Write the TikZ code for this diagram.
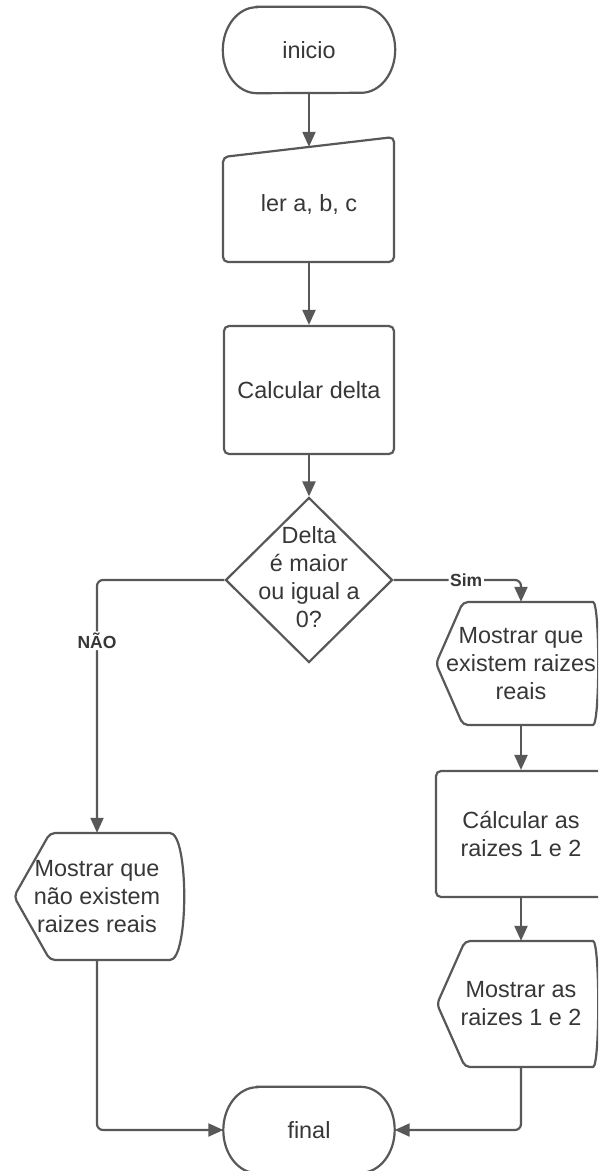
\documentclass[tikz,border=0pt]{standalone}
\usepackage{fontspec}
\setmainfont{Liberation Sans}
\usetikzlibrary{arrows.meta,shapes.geometric,calc}
\definecolor{linec}{RGB}{88,88,88}
\definecolor{textc}{RGB}{55,55,55}
\tikzset{
  shapeline/.style={draw=linec, line width=2.2pt, rounded corners=5pt},
  txt/.style={inner sep=0pt, align=center, text=textc, font=\fontsize{23.4pt}{28pt}\selectfont},
  ghost/.style={txt, draw=none, minimum width=170pt},
  box/.style={txt, shapeline, minimum width=170pt},
  decision/.style={diamond, draw=linec, line width=2.2pt, minimum width=167pt, minimum height=165pt, inner sep=0pt},
  conn/.style={draw=linec, line width=2.2pt, rounded corners=6pt, -{Triangle[length=15pt,width=13pt]}},
  lbl/.style={fill=white, text=textc, font=\bfseries\fontsize{17.5pt}{20pt}\selectfont, inner sep=1.5pt},
}
\begin{document}
\begin{tikzpicture}[x=1pt,y=-1pt]
\useasboundingbox (0,0) rectangle (598,1171);
\fill[white] (0,0) rectangle (598,1171);
\clip (0,0) rectangle (598,1171);

% start terminal
\node[ghost, minimum width=172pt, minimum height=86pt] (inicio) at (309,50) {inicio};
\draw[shapeline, rounded corners=0pt] ($(inicio.north west)+(34,0)$) -- ($(inicio.north east)+(-34,0)$)
  arc[start angle=90, end angle=-90, x radius=34pt, y radius=43pt]
  -- ($(inicio.south west)+(34,0)$)
  arc[start angle=270, end angle=90, x radius=34pt, y radius=43pt] -- cycle;

% manual input
\node[ghost, minimum height=115pt] (ler) at (309,204.5) {ler a, b, c};
\draw[shapeline] (223,157) -- (394,137) -- (394,262) -- (223,262) -- cycle;

% process
\node[box, minimum height=128pt] (calc) at (309,390) {Calcular delta};

% decision
\node[decision] (dec) at (309,580) {};
\node[txt] (dectext) at (309,577) {Delta\\é maior\\ou igual a\\0?};

% right branch
\node[ghost, minimum height=123pt] (d1) at (521,663.5) {Mostrar que\\existem raizes\\reais};
\draw[shapeline] (436,663.5) -- (463,602) -- (588,602) .. controls (600,602) and (600,725) .. (588,725) -- (463,725) -- cycle;

\node[box, minimum height=126pt] (raizes) at (521,834) {Cálcular as\\raizes 1 e 2};

\node[ghost, minimum height=126pt] (d3) at (521,1004) {Mostrar as\\raizes 1 e 2};
\draw[shapeline] (437,1004) -- (465,941) -- (588,941) .. controls (600,941) and (600,1067) .. (588,1067) -- (465,1067) -- cycle;

% left branch
\node[ghost, minimum height=127pt] (d2) at (97,896.5) {Mostrar que\\não existem\\raizes reais};
\draw[shapeline] (14,896.5) -- (50,833) -- (165,833) .. controls (189,833) and (189,960) .. (165,960) -- (50,960) -- cycle;

% end terminal
\node[ghost, minimum width=171pt, minimum height=86pt] (final) at (309,1130) {final};
\draw[shapeline, rounded corners=0pt] ($(final.north west)+(34,0)$) -- ($(final.north east)+(-34,0)$)
  arc[start angle=90, end angle=-90, x radius=34pt, y radius=43pt]
  -- ($(final.south west)+(34,0)$)
  arc[start angle=270, end angle=90, x radius=34pt, y radius=43pt] -- cycle;

% connectors
\draw[conn] (inicio) -- (ler);
\draw[conn] (ler) -- (calc);
\draw[conn] (calc) -- (dec);
\draw[conn] (dec.west) -| node[lbl, pos=0.62] (nao) {NÃO} (d2.north);
\draw[conn] (dec.east) -| node[lbl, pos=0.285] (sim) {Sim} (d1.north);
\draw[conn] (d1) -- (raizes);
\draw[conn] (raizes) -- (d3);
\draw[conn] (d2.south) |- (final.west);
\draw[conn] (d3.south) |- (final.east);
\end{tikzpicture}
\end{document}
